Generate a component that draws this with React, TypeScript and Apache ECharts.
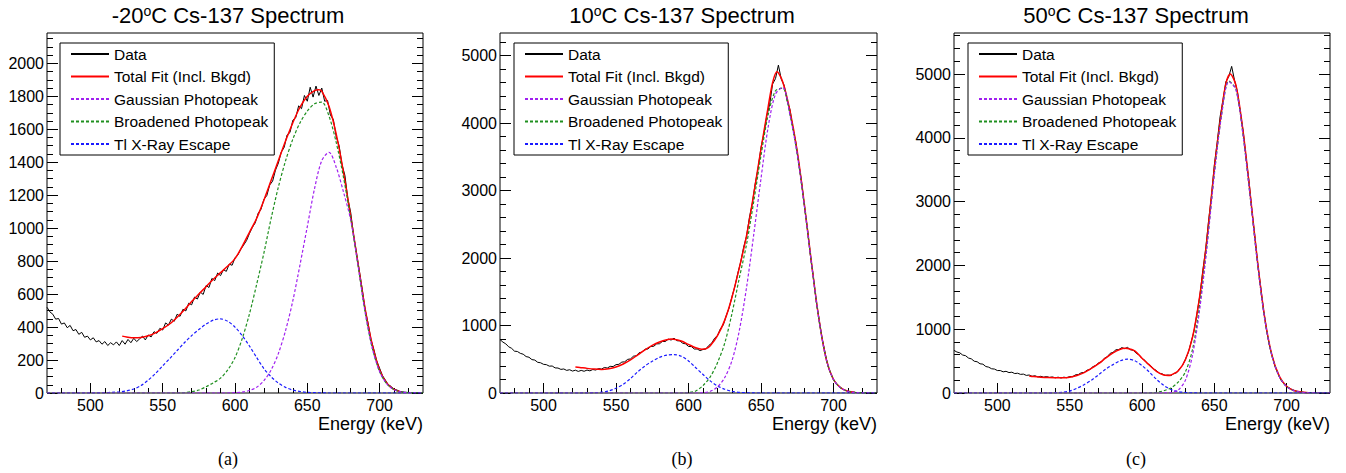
import React, { useEffect, useRef } from "react";
import * as echarts from "echarts";

const FONT = '"Liberation Sans", Arial, Helvetica, sans-serif';

// ---------- texts ----------
const TITLE_TEMPS = ["-20", "10", "50"];
const CAPTIONS = ["(a)", "(b)", "(c)"];
const X_TITLE = "Energy (keV)";
const NAME_DATA = "Data";
const NAME_TOTAL = "Total Fit (Incl. Bkgd)";
const NAME_GAUSS = "Gaussian Photopeak";
const NAME_BROAD = "Broadened Photopeak";
const NAME_TL = "Tl X-Ray Escape";
const LEGEND_NAMES = [NAME_DATA, NAME_TOTAL, NAME_GAUSS, NAME_BROAD, NAME_TL];

// ---------- axes ----------
const X_MIN = 470;
const X_MAX = 730;
const X_MAJOR_TICKS = [500, 550, 600, 650, 700];
const X_MINOR_TICKS = [480, 490, 510, 520, 530, 540, 560, 570, 580, 590, 610, 620, 630, 640, 660, 670, 680, 690, 710, 720];
const Y_MAX = [2184, 5336, 5643];
const Y_MAJOR_TICKS = [
  [0, 200, 400, 600, 800, 1000, 1200, 1400, 1600, 1800, 2000],
  [0, 1000, 2000, 3000, 4000, 5000],
  [0, 1000, 2000, 3000, 4000, 5000],
];
const Y_MINOR_STEP = [50, 200, 200];

// ---------- data: histogram bins (2 keV) ----------
const DATA_E_START = 470;
const DATA_E_STEP = 2;
const DATA_M20 = [
  520, 492, 478, 448, 452, 418, 425, 396, 410, 378,
  385, 356, 368, 338, 345, 322, 335, 310, 318, 296,
  312, 288, 305, 292, 310, 288, 318, 296, 325, 305,
  332, 312, 328, 345, 322, 352, 340, 372, 362, 392,
  382, 425, 412, 448, 435, 478, 465, 508, 498, 545,
  535, 582, 570, 612, 598, 652, 640, 695, 682, 728,
  712, 748, 738, 782, 775, 820, 838, 872, 898, 925,
  968, 1005, 1032, 1090, 1115, 1175, 1198, 1262, 1285, 1352,
  1395, 1462, 1490, 1565, 1580, 1655, 1670, 1742, 1725, 1805,
  1770, 1855, 1795, 1862, 1805, 1850, 1770, 1775, 1685, 1660,
  1555, 1500, 1385, 1320, 1180, 1095, 960, 850, 740, 630,
  505, 425, 325, 265, 195, 150, 105, 78, 50, 40,
  22, 18, 9, 7, 4, 3, 2, 1, 1, 0,
  0,
];
const DATA_10 = [
  792, 755, 728, 685, 662, 620, 615, 588, 575, 540,
  530, 495, 488, 455, 448, 425, 420, 398, 400, 372,
  370, 350, 356, 335, 345, 325, 338, 320, 335, 322,
  340, 328, 348, 340, 362, 355, 378, 370, 395, 392,
  420, 425, 458, 462, 498, 505, 545, 552, 598, 605,
  650, 652, 690, 692, 728, 730, 765, 762, 798, 785,
  812, 775, 772, 738, 728, 690, 688, 652, 652, 628,
  645, 652, 705, 738, 812, 852, 952, 1010, 1145, 1260,
  1430, 1580, 1775, 1940, 2160, 2320, 2600, 2810, 3100, 3330,
  3640, 3840, 4110, 4280, 4580, 4660, 4860, 4650, 4560, 4330,
  4200, 3920, 3720, 3410, 3130, 2760, 2440, 2050, 1740, 1370,
  1100, 820, 620, 410, 290, 195, 142, 92, 64, 38,
  27, 15, 11, 5, 4, 2, 1, 1, 0, 0,
  0,
];
const DATA_50 = [
  668, 642, 630, 595, 585, 548, 535, 498, 490, 458,
  452, 415, 405, 380, 375, 352, 352, 332, 340, 320,
  326, 305, 310, 292, 296, 276, 282, 262, 270, 252,
  262, 248, 258, 244, 252, 238, 248, 235, 248, 240,
  258, 255, 285, 290, 318, 322, 358, 368, 412, 432,
  472, 488, 545, 568, 622, 638, 678, 680, 712, 695,
  715, 678, 670, 622, 598, 542, 512, 452, 428, 378,
  352, 308, 300, 275, 282, 272, 305, 318, 382, 432,
  528, 632, 800, 972, 1245, 1525, 1915, 2245, 2690, 3080,
  3570, 3930, 4330, 4590, 4880, 4960, 5120, 4900, 4720, 4400,
  4100, 3680, 3320, 2860, 2470, 2030, 1675, 1310, 1010, 752,
  582, 415, 305, 205, 152, 102, 76, 48, 33, 19,
  14, 8, 5, 3, 2, 1, 0, 0, 0, 0,
  0,
];

// ---------- fit components (sampled every 5 keV from 470 to 730) ----------
const COMP_E_START = 470;
const COMP_E_STEP = 5;
const GAUSS_M20 = [
  0, 0, 0, 0, 0, 0, 0, 0, 0, 0,
  0, 0, 0, 0, 0, 0, 0, 0, 0, 0,
  0, 0, 0, 0, 0, 0, 2, 5, 15, 35,
  75, 140, 240, 380, 560, 780, 1010, 1240, 1410, 1460,
  1370, 1220, 1050, 780, 490, 270, 130, 55, 20, 6,
  2, 0, 0,
];
const BROAD_M20 = [
  0, 0, 0, 0, 0, 0, 0, 0, 0, 0,
  0, 0, 0, 0, 0, 0, 0, 0, 0, 2,
  8, 18, 38, 62, 90, 140, 215, 330, 480, 660,
  850, 1060, 1250, 1410, 1540, 1640, 1710, 1755, 1765, 1680,
  1520, 1310, 1060, 780, 490, 270, 130, 55, 20, 6,
  2, 0, 0,
];
const TL_M20 = [
  0, 0, 0, 0, 0, 0, 0, 1, 2, 4,
  7, 13, 24, 45, 78, 118, 165, 210, 258, 305,
  348, 385, 418, 442, 450, 435, 400, 348, 285, 215,
  148, 98, 60, 34, 18, 9, 4, 2, 1, 0,
  0, 0, 0, 0, 0, 0, 0, 0, 0, 0,
  0, 0, 0,
];
const GAUSS_10 = [
  0, 0, 0, 0, 0, 0, 0, 0, 0, 0,
  0, 0, 0, 0, 0, 0, 0, 0, 0, 0,
  0, 0, 0, 0, 0, 0, 0, 0, 3, 25,
  90, 230, 480, 920, 1560, 2350, 3180, 3950, 4430, 4530,
  4120, 3540, 2760, 1890, 1085, 500, 200, 75, 25, 8,
  2, 0, 0,
];
const BROAD_10 = [
  0, 0, 0, 0, 0, 0, 0, 0, 0, 0,
  0, 0, 0, 0, 0, 0, 0, 0, 0, 0,
  0, 0, 0, 0, 0, 0, 5, 30, 110, 240,
  450, 740, 1180, 1700, 2200, 2840, 3520, 4130, 4480, 4520,
  4120, 3540, 2760, 1890, 1085, 500, 200, 75, 25, 8,
  2, 0, 0,
];
const TL_10 = [
  0, 0, 0, 0, 0, 0, 0, 0, 0, 0,
  0, 0, 2, 5, 12, 30, 70, 130, 215, 315,
  400, 470, 528, 562, 570, 545, 475, 375, 275, 180,
  105, 55, 25, 10, 4, 1, 0, 0, 0, 0,
  0, 0, 0, 0, 0, 0, 0, 0, 0, 0,
  0, 0, 0,
];
const GAUSS_50 = [
  0, 0, 0, 0, 0, 0, 0, 0, 0, 0,
  0, 0, 0, 0, 0, 0, 0, 0, 0, 0,
  0, 0, 0, 0, 0, 0, 0, 0, 0, 2,
  8, 45, 200, 600, 1330, 2300, 3420, 4350, 4880, 4755,
  4020, 3040, 2010, 1140, 570, 255, 100, 38, 13, 4,
  1, 0, 0,
];
const BROAD_50 = [
  0, 0, 0, 0, 0, 0, 0, 0, 0, 0,
  0, 0, 0, 0, 0, 0, 0, 0, 0, 0,
  0, 0, 0, 0, 0, 0, 0, 3, 12, 35,
  80, 170, 330, 690, 1400, 2340, 3440, 4360, 4890, 4760,
  4025, 3040, 2010, 1140, 570, 255, 100, 38, 13, 4,
  1, 0, 0,
];
const TL_50 = [
  0, 0, 0, 0, 0, 0, 0, 0, 0, 0,
  0, 0, 0, 0, 5, 12, 30, 75, 130, 200,
  285, 375, 445, 505, 530, 505, 430, 330, 215, 120,
  55, 22, 8, 2, 0, 0, 0, 0, 0, 0,
  0, 0, 0, 0, 0, 0, 0, 0, 0, 0,
  0, 0, 0,
];

// ---------- total fit (fit range ~522-715 keV) ----------
const TOTAL_E_M20 = [522, 525, 530, 535, 540, 545, 550, 555, 560, 565, 570, 575, 580, 585, 590, 595, 600, 605, 610, 615, 620, 625, 630, 635, 640, 645, 650, 655, 658, 660, 665, 670, 675, 680, 685, 690, 695, 700, 705, 710, 715];
const TOTAL_M20 = [345, 340, 335, 337, 347, 365, 390, 420, 460, 505, 555, 600, 645, 690, 730, 770, 815, 890, 975, 1060, 1170, 1290, 1410, 1530, 1640, 1735, 1800, 1835, 1840, 1832, 1740, 1570, 1340, 1070, 790, 510, 290, 140, 60, 22, 6];
const TOTAL_E_10 = [522, 525, 530, 535, 540, 545, 550, 555, 560, 565, 570, 575, 580, 585, 588, 590, 595, 600, 605, 609, 612, 615, 620, 625, 630, 635, 640, 645, 650, 655, 658, 661, 665, 670, 675, 680, 685, 690, 695, 700, 705, 710, 715];
const TOTAL_10 = [385, 378, 365, 355, 350, 360, 385, 430, 490, 565, 640, 705, 755, 790, 800, 798, 770, 720, 670, 650, 655, 700, 850, 1080, 1420, 1850, 2330, 2950, 3620, 4250, 4600, 4760, 4610, 4180, 3580, 2780, 1900, 1090, 500, 200, 75, 25, 8];
const TOTAL_E_50 = [522, 525, 530, 535, 540, 545, 550, 555, 560, 565, 570, 575, 580, 585, 588, 590, 595, 600, 605, 610, 615, 618, 620, 625, 630, 635, 640, 645, 650, 655, 658, 661, 665, 670, 675, 680, 685, 690, 695, 700, 705, 710, 715];
const TOTAL_50 = [268, 258, 248, 242, 240, 240, 248, 275, 320, 385, 460, 550, 630, 685, 700, 698, 660, 545, 440, 340, 282, 275, 282, 345, 520, 880, 1530, 2430, 3520, 4420, 4850, 5000, 4820, 4080, 3080, 2040, 1160, 580, 260, 105, 40, 14, 4];

const PANELS = [
  { temp: TITLE_TEMPS[0], caption: CAPTIONS[0], data: DATA_M20, totalE: TOTAL_E_M20, total: TOTAL_M20, gauss: GAUSS_M20, broad: BROAD_M20, tl: TL_M20 },
  { temp: TITLE_TEMPS[1], caption: CAPTIONS[1], data: DATA_10, totalE: TOTAL_E_10, total: TOTAL_10, gauss: GAUSS_10, broad: BROAD_10, tl: TL_10 },
  { temp: TITLE_TEMPS[2], caption: CAPTIONS[2], data: DATA_50, totalE: TOTAL_E_50, total: TOTAL_50, gauss: GAUSS_50, broad: BROAD_50, tl: TL_50 },
];

// ---------- layout ----------
const GRID_LEFT = [47, 500, 954];
const GRID_WIDTH = [376, 377, 376];
const GRID_TOP = 33;
const GRID_HEIGHT = 360;
const TITLE_X = [228, 682, 1136];
const LEGEND_LEFT = [60, 514, 968];

const COLORS = {
  data: "#000000",
  total: "#ff0000",
  gauss: "#a020f0",
  broad: "#1f8f1f",
  tl: "#1a1aff",
};

function binPairs(start: number, step: number, vals: number[]) {
  return vals.map((v, k) => [start + step * k, v]);
}
function zipPairs(xs: number[], ys: number[]) {
  return xs.map((x, k) => [x, ys[k]]);
}
function minorTicks(max: number, step: number, majors: number[]) {
  const out: number[] = [];
  for (let v = step; v < max; v += step) {
    if (!majors.includes(v)) out.push(v);
  }
  return out;
}
const plainNumber = (v: number) => String(v);

function buildOption() {
  const grid: any[] = [];
  const xAxis: any[] = [];
  const yAxis: any[] = [];
  const series: any[] = [];
  const legend: any[] = [];
  const graphic: any[] = [];

  PANELS.forEach((p, i) => {
    grid.push({
      left: GRID_LEFT[i],
      top: GRID_TOP,
      width: GRID_WIDTH[i],
      height: GRID_HEIGHT,
      show: true,
      borderColor: "#000",
      borderWidth: 1,
      backgroundColor: "rgba(0,0,0,0)",
    });

    const baseX = {
      type: "value",
      gridIndex: i,
      min: X_MIN,
      max: X_MAX,
      position: "bottom",
      axisLine: { show: false },
      splitLine: { show: false },
    };
    xAxis.push({
      ...baseX,
      axisTick: { show: true, inside: true, length: 10, customValues: X_MAJOR_TICKS, lineStyle: { color: "#000", width: 1 } },
      axisLabel: { show: true, customValues: X_MAJOR_TICKS, formatter: plainNumber, fontSize: 16, fontFamily: FONT, color: "#000", margin: 4 },
    });
    xAxis.push({
      ...baseX,
      axisTick: { show: true, inside: true, length: 5, customValues: X_MINOR_TICKS, lineStyle: { color: "#000", width: 1 } },
      axisLabel: { show: false },
    });

    const majors = Y_MAJOR_TICKS[i];
    const minors = minorTicks(Y_MAX[i], Y_MINOR_STEP[i], majors);
    const baseY = {
      type: "value",
      gridIndex: i,
      min: 0,
      max: Y_MAX[i],
      axisLine: { show: false },
      splitLine: { show: false },
    };
    yAxis.push({
      ...baseY,
      position: "left",
      axisTick: { show: true, inside: true, length: 11, customValues: majors, lineStyle: { color: "#000", width: 1 } },
      axisLabel: { show: true, customValues: majors, formatter: plainNumber, fontSize: 16, fontFamily: FONT, color: "#000", margin: 3 },
    });
    yAxis.push({
      ...baseY,
      position: "left",
      axisTick: { show: true, inside: true, length: 6, customValues: minors, lineStyle: { color: "#000", width: 1 } },
      axisLabel: { show: false },
    });
    yAxis.push({
      ...baseY,
      position: "right",
      axisTick: { show: true, inside: true, length: 11, customValues: majors, lineStyle: { color: "#000", width: 1 } },
      axisLabel: { show: false },
    });
    yAxis.push({
      ...baseY,
      position: "right",
      axisTick: { show: true, inside: true, length: 6, customValues: minors, lineStyle: { color: "#000", width: 1 } },
      axisLabel: { show: false },
    });

    const xi = 2 * i;
    const yi = 4 * i;
    const common = { type: "line", xAxisIndex: xi, yAxisIndex: yi, symbol: "none", silent: true };
    series.push({
      ...common,
      name: NAME_DATA,
      data: binPairs(DATA_E_START, DATA_E_STEP, p.data),
      color: COLORS.data,
      lineStyle: { width: 1, color: COLORS.data },
      z: 2,
    });
    series.push({
      ...common,
      name: NAME_TOTAL,
      data: zipPairs(p.totalE, p.total),
      smooth: 0.3,
      color: COLORS.total,
      lineStyle: { width: 1.5, color: COLORS.total },
      z: 3,
    });
    series.push({
      ...common,
      name: NAME_TL,
      data: binPairs(COMP_E_START, COMP_E_STEP, p.tl),
      smooth: 0.3,
      color: COLORS.tl,
      lineStyle: { width: 1.2, color: COLORS.tl, type: [3, 2] },
      z: 4,
    });
    series.push({
      ...common,
      name: NAME_BROAD,
      data: binPairs(COMP_E_START, COMP_E_STEP, p.broad),
      smooth: 0.3,
      color: COLORS.broad,
      lineStyle: { width: 1.2, color: COLORS.broad, type: [3, 2] },
      z: 4,
    });
    series.push({
      ...common,
      name: NAME_GAUSS,
      data: binPairs(COMP_E_START, COMP_E_STEP, p.gauss),
      smooth: 0.3,
      color: COLORS.gauss,
      lineStyle: { width: 1.2, color: COLORS.gauss, type: [3, 2] },
      z: 5,
    });

    legend.push({
      left: LEGEND_LEFT[i],
      top: 43,
      orient: "vertical",
      data: LEGEND_NAMES,
      itemWidth: 38,
      itemHeight: 14,
      itemGap: 6.5,
      padding: [3, 6, 3, 10],
      borderColor: "#000",
      borderWidth: 1,
      borderRadius: 0,
      backgroundColor: "#fff",
      selectedMode: false,
      itemStyle: { opacity: 0, borderWidth: 0 },
      textStyle: { fontSize: 15.5, fontFamily: FONT, color: "#000" },
    });

    graphic.push({
      type: "text",
      x: TITLE_X[i],
      y: 15,
      style: {
        text: `{a|${p.temp}}{s|o}{a|C Cs-137 Spectrum}`,
        align: "center",
        verticalAlign: "middle",
        rich: {
          a: { fontSize: 22, fontFamily: FONT, fill: "#000" },
          s: { fontSize: 14, fontFamily: FONT, fill: "#000", verticalAlign: "top" },
        },
      },
    });
    graphic.push({
      type: "text",
      x: GRID_LEFT[i] + GRID_WIDTH[i],
      y: 424,
      style: {
        text: X_TITLE,
        align: "right",
        verticalAlign: "middle",
        fontSize: 18,
        fontFamily: FONT,
        fill: "#000",
      },
    });
    graphic.push({
      type: "text",
      x: TITLE_X[i],
      y: 459,
      style: {
        text: p.caption,
        align: "center",
        verticalAlign: "middle",
        fontSize: 18,
        fontFamily: '"Liberation Serif", "Times New Roman", serif',
        fill: "#000",
      },
    });
  });

  return {
    animation: false,
    backgroundColor: "#fff",
    grid,
    xAxis,
    yAxis,
    series,
    legend,
    graphic,
  };
}

export default function App() {
  const ref = useRef<HTMLDivElement>(null);
  useEffect(() => {
    document.body.style.margin = "0";
    const chart = echarts.init(ref.current as HTMLDivElement, undefined, { renderer: "svg" });
    chart.setOption(buildOption() as any);
    return () => {
      chart.dispose();
    };
  }, []);
  return <div ref={ref} style={{ width: 1346, height: 473 }} />;
}
